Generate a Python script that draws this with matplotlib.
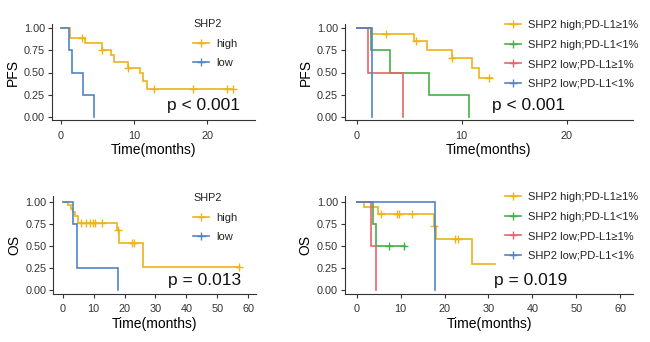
import numpy as np
import matplotlib
matplotlib.use("Agg")
import matplotlib.pyplot as plt
from matplotlib.lines import Line2D

plt.rcParams['font.family'] = ['Liberation Sans', 'DejaVu Sans']

# ---------------- data ----------------
# Panel A: PFS by SHP2
pfs_high_t = [0, 1.3, 3.3, 5.6, 6.8, 7.2, 9.2, 10.8, 11.3, 11.8]
pfs_high_s = [1.0, 0.89, 0.83, 0.76, 0.70, 0.62, 0.55, 0.49, 0.40, 0.31]
pfs_high_cens = [2.9, 5.6, 9.2, 12.7, 18.1, 22.7, 23.6]
pfs_high_end = 23.6
pfs_low_t = [0, 1.15, 1.45, 3.05, 4.5]
pfs_low_s = [1.0, 0.75, 0.5, 0.25, 0.0]

# Panel B: PFS by SHP2 x PD-L1
pfs_hp_t = [0, 1.4, 5.5, 6.7, 9.05, 10.95, 11.6]
pfs_hp_s = [1.0, 0.935, 0.855, 0.755, 0.66, 0.547, 0.434]
pfs_hp_cens = [2.76, 5.6, 9.1, 12.6]
pfs_hp_end = 12.9
pfs_hn_t = [0, 1.4, 3.17, 6.9, 10.73]
pfs_hn_s = [1.0, 0.75, 0.5, 0.25, 0.0]
pfs_lp_t = [0, 1.1, 4.38]
pfs_lp_s = [1.0, 0.5, 0.0]
pfs_ln_t = [0, 1.43]
pfs_ln_s = [1.0, 0.0]

# Panel C: OS by SHP2
os_high_t = [0, 1.6, 2.7, 3.4, 4.1, 4.8, 17.5, 18.2, 26.1]
os_high_s = [1.0, 0.96, 0.92, 0.88, 0.84, 0.76, 0.68, 0.53, 0.26]
os_high_cens = [5.8, 7.4, 8.9, 9.8, 10.4, 12.8, 17.8, 22.3, 22.9, 57.0]
os_high_end = 57.0
os_low_t = [0, 3.4, 4.5, 17.8]
os_low_s = [1.0, 0.75, 0.25, 0.0]

# Panel D: OS by SHP2 x PD-L1
os_hp_t = [0, 1.7, 4.9, 17.5, 18.0, 26.2]
os_hp_s = [1.0, 0.935, 0.857, 0.725, 0.574, 0.30]
os_hp_cens = [5.5, 9.1, 9.7, 12.6, 17.7, 22.4, 23.1]
os_hp_end = 31.6
os_hn_t = [0, 3.8, 4.4]
os_hn_s = [1.0, 0.75, 0.5]
os_hn_cens = [7.4, 10.7]
os_hn_end = 11.0
os_lp_t = [0, 3.2, 4.4]
os_lp_s = [1.0, 0.5, 0.0]
os_ln_t = [0, 17.9]
os_ln_s = [1.0, 0.0]

labels2 = ["high", "low"]
labels4 = ["SHP2 high;PD-L1\u22651%", "SHP2 high;PD-L1<1%",
           "SHP2 low;PD-L1\u22651%", "SHP2 low;PD-L1<1%"]
pvals = ["p < 0.001", "p < 0.001", "p = 0.013", "p = 0.019"]

YEL = "#EEB31C"
GRN = "#47AE48"
RED = "#E8636B"
BLU = "#5384C6"

W, H = 650, 342
fig = plt.figure(figsize=(6.5, 3.42), dpi=100)


def make_ax(x0, x_per, xlim, y1px, y0px, ylim):
    # x0: pixel of t=0, x_per: px per unit; y1px: pixel of S=1, y0px: pixel of S=0
    left = x0 + xlim[0] * x_per
    right = x0 + xlim[1] * x_per
    ppu = y0px - y1px
    top = y0px - ylim[1] * ppu
    bottom = y0px - ylim[0] * ppu
    ax = fig.add_axes([left / W, 1 - bottom / H, (right - left) / W, (bottom - top) / H])
    ax.set_xlim(*xlim)
    ax.set_ylim(*ylim)
    for s in ("top", "right"):
        ax.spines[s].set_visible(False)
    for s in ("left", "bottom"):
        ax.spines[s].set_color("#333333")
        ax.spines[s].set_linewidth(0.8)
    ax.tick_params(length=3, width=0.8, color="#333333", labelsize=7.8,
                   labelcolor="#333333", pad=2)
    ax.tick_params(axis="x", pad=4.5)
    ax.set_yticks([0, 0.25, 0.5, 0.75, 1.0])
    ax.set_yticklabels(["0.00", "0.25", "0.50", "0.75", "1.00"])
    return ax


def km(ax, t, s, color, end=None, cens=None):
    tt = list(t)
    ss = list(s)
    if end is not None and end > tt[-1]:
        tt.append(end)
        ss.append(ss[-1])
    ax.step(tt, ss, where="post", color=color, lw=1.2, solid_joinstyle="miter")
    if cens:
        ta = np.array(t)
        sa = np.array(s)
        idx = np.searchsorted(ta, np.array(cens), side="right") - 1
        ax.plot(cens, sa[idx], ls="none", marker="+", color=color, ms=6, mew=1.0)


def legend(ax, colors, labels, x, y, title=None):
    handles = [Line2D([0], [0], color=c, lw=1.2, marker="+", ms=6, mew=1.0) for c in colors]
    leg = ax.legend(handles, labels, loc="upper left", bbox_to_anchor=(x / W, 1 - y / H),
                    bbox_transform=fig.transFigure, frameon=False, fontsize=8,
                    handlelength=1.4, handletextpad=0.7, labelspacing=0.86,
                    borderpad=0, borderaxespad=0, title=title, title_fontsize=7.8,
                    alignment="left")
    for txt in leg.get_texts():
        txt.set_color("#222222")
    if title:
        leg.get_title().set_color("#222222")
    return leg


def labels(ax, ylab):
    ax.set_ylabel(ylab, fontsize=10, labelpad=3)
    ax.set_xlabel("Time(months)", fontsize=10, labelpad=2)


# Panel A
ax1 = make_ax(61, 7.3, (-1.27, 26.6), 28.3, 116.7, (-0.04, 1.05))
km(ax1, pfs_high_t, pfs_high_s, YEL, pfs_high_end, pfs_high_cens)
km(ax1, pfs_low_t, pfs_low_s, BLU)
ax1.set_xticks([0, 10, 20])
labels(ax1, "PFS")
legend(ax1, [YEL, BLU], labels2, 193, 19, title="SHP2")
ax1.text(203.7 / W, 1 - 106 / H, pvals[0], transform=fig.transFigure,
         ha="center", va="center", fontsize=12.5, color="#111111")

# Panel B
ax2 = make_ax(356.7, 10.5, (-1.11, 26.3), 28.3, 116.7, (-0.04, 1.05))
km(ax2, pfs_hp_t, pfs_hp_s, YEL, pfs_hp_end, pfs_hp_cens)
km(ax2, pfs_hn_t, pfs_hn_s, GRN)
km(ax2, pfs_lp_t, pfs_lp_s, RED)
km(ax2, pfs_ln_t, pfs_ln_s, BLU)
ax2.set_xticks([0, 10, 20])
labels(ax2, "PFS")
legend(ax2, [YEL, GRN, RED, BLU], labels4, 505, 20)
ax2.text(529 / W, 1 - 105 / H, pvals[1], transform=fig.transFigure,
         ha="center", va="center", fontsize=12.5, color="#111111")

# Panel C
ax3 = make_ax(62.7, 3.093, (-3.04, 62.5), 201.7, 290, (-0.04, 1.06))
km(ax3, os_high_t, os_high_s, YEL, os_high_end, os_high_cens)
km(ax3, os_low_t, os_low_s, BLU)
ax3.set_xticks([0, 10, 20, 30, 40, 50, 60])
labels(ax3, "OS")
legend(ax3, [YEL, BLU], labels2, 193, 193, title="SHP2")
ax3.text(204.7 / W, 1 - 281 / H, pvals[2], transform=fig.transFigure,
         ha="center", va="center", fontsize=12.5, color="#111111")

# Panel D
ax4 = make_ax(356.7, 4.39, (-2.67, 63.0), 201.7, 290, (-0.04, 1.06))
km(ax4, os_hp_t, os_hp_s, YEL, os_hp_end, os_hp_cens)
km(ax4, os_hn_t, os_hn_s, GRN, os_hn_end, os_hn_cens)
km(ax4, os_lp_t, os_lp_s, RED)
km(ax4, os_ln_t, os_ln_s, BLU)
ax4.set_xticks([0, 10, 20, 30, 40, 50, 60])
labels(ax4, "OS")
legend(ax4, [YEL, GRN, RED, BLU], labels4, 505, 192)
ax4.text(530.3 / W, 1 - 281 / H, pvals[3], transform=fig.transFigure,
         ha="center", va="center", fontsize=12.5, color="#111111")

fig.savefig("out.png", dpi=100, facecolor="white")
